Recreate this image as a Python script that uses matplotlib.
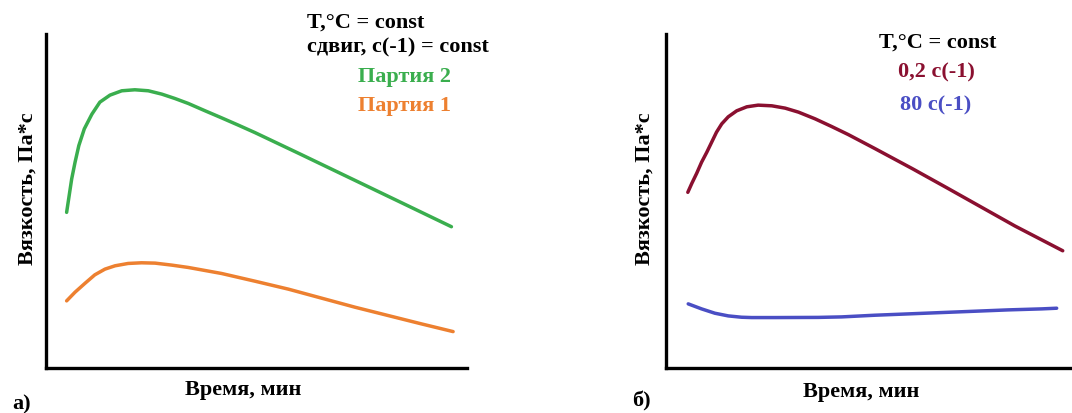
import matplotlib
matplotlib.use("Agg")
import matplotlib.pyplot as plt

plt.rcParams['font.family'] = ['Liberation Serif', 'DejaVu Serif']
plt.rcParams['font.weight'] = 'bold'

# Panel а): viscosity vs time for two batches (arbitrary units)
time_batch2 = [4.9, 5.5, 6.1, 6.9, 7.8, 9.1, 10.9, 12.8, 15.2, 18.0, 21.1, 24.3,
               27.5, 30.6, 33.8, 37.8, 41.7, 45.7, 49.6, 60.3, 72.2, 84.1, 96.3]
visc_batch2 = [46.6, 51.6, 56.6, 61.6, 66.6, 71.6, 76.0, 79.6, 81.7, 83.0, 83.3, 83.0,
               82.0, 80.7, 79.2, 77.0, 74.9, 72.7, 70.5, 64.1, 56.9, 49.7, 42.3]

time_batch1 = [4.9, 6.9, 9.3, 11.6, 14.0, 16.4, 19.5, 22.7, 25.9, 29.9, 33.8,
               41.7, 49.6, 57.6, 65.5, 73.4, 81.3, 89.2, 96.7]
visc_batch1 = [20.1, 22.7, 25.4, 27.9, 29.6, 30.6, 31.3, 31.5, 31.4, 30.8, 30.1,
               28.3, 26.0, 23.6, 20.9, 18.2, 15.7, 13.2, 10.9]

# Panel б): viscosity vs time at two shear rates
time_low = [5.4, 6.4, 7.6, 8.8, 10.1, 11.3, 12.5, 13.8, 15.4, 17.5, 20.0, 22.8, 26.2,
            29.5, 32.8, 36.9, 41.0, 45.1, 48.4, 51.7, 61.1, 69.6, 78.0, 86.4, 98.2]
visc_low = [52.6, 55.3, 58.3, 61.6, 64.6, 67.6, 70.6, 73.1, 75.2, 77.0, 78.2, 78.7, 78.5,
            77.8, 76.6, 74.6, 72.3, 69.9, 67.8, 65.7, 59.6, 53.9, 48.2, 42.5, 35.1]

time_high = [5.5, 8.8, 12.1, 15.4, 18.7, 21.2, 27.0, 37.7, 43.5, 51.7, 60.0, 68.2,
             76.5, 84.7, 93.0, 96.7]
visc_high = [19.2, 17.7, 16.4, 15.6, 15.2, 15.1, 15.1, 15.15, 15.3, 15.8, 16.2, 16.6,
             17.0, 17.4, 17.7, 17.9]

GREEN = '#3aae4e'
ORANGE = '#ed8030'
MAROON = '#8a1030'
BLUE = '#4a4ec4'

W, H = 1072, 414
fig = plt.figure(figsize=(W / 100, H / 100), dpi=100)


def px_axes(x0, y0, x1, y1):
    return fig.add_axes([x0 / W, 1 - y1 / H, (x1 - x0) / W, (y1 - y0) / H])


def style(ax):
    ax.set_xlim(0, 100)
    ax.set_ylim(0, 100)
    for s in ('top', 'right'):
        ax.spines[s].set_visible(False)
    for s in ('left', 'bottom'):
        ax.spines[s].set_linewidth(2.4)
        ax.spines[s].set_color('black')
    ax.set_xticks([])
    ax.set_yticks([])
    ax.patch.set_alpha(0)


def ftext(x, y, s, **kw):
    kw.setdefault('fontsize', 16)
    kw.setdefault('fontweight', 'bold')
    kw.setdefault('va', 'center')
    fig.text(x / W, 1 - y / H, s, **kw)


line_kw = dict(lw=2.5, solid_capstyle='round', solid_joinstyle='round')

ax1 = px_axes(46, 35, 467, 369)
style(ax1)
ax1.plot(time_batch2, visc_batch2, color=GREEN, **line_kw)
ax1.plot(time_batch1, visc_batch1, color=ORANGE, **line_kw)

ax2 = px_axes(666, 35, 1070, 369)
style(ax2)
ax2.plot(time_low, visc_low, color=MAROON, **line_kw)
ax2.plot(time_high, visc_high, color=BLUE, **line_kw)

# Annotations, panel а)
ftext(307, 23, 'T,°C = const', ha='left')
ftext(307, 47, 'сдвиг, с(-1) = const', ha='left')
ftext(404, 77, 'Партия 2', ha='center', color=GREEN)
ftext(404, 106, 'Партия 1', ha='center', color=ORANGE)

# Annotations, panel б)
ftext(938, 43, 'T,°C = const', ha='center')
ftext(936, 72, '0,2 с(-1)', ha='center', color=MAROON)
ftext(936, 105, '80 с(-1)', ha='center', color=BLUE)

# Axis titles
ftext(28, 189, 'Вязкость, Па*с', ha='center', rotation=90)
ftext(645, 189, 'Вязкость, Па*с', ha='center', rotation=90)
ftext(243, 390, 'Время, мин', ha='center')
ftext(861, 392, 'Время, мин', ha='center')

# Panel letters
ftext(12, 404, 'а)', ha='left')
ftext(632, 401, 'б)', ha='left')

fig.savefig('out.png', dpi=100)
